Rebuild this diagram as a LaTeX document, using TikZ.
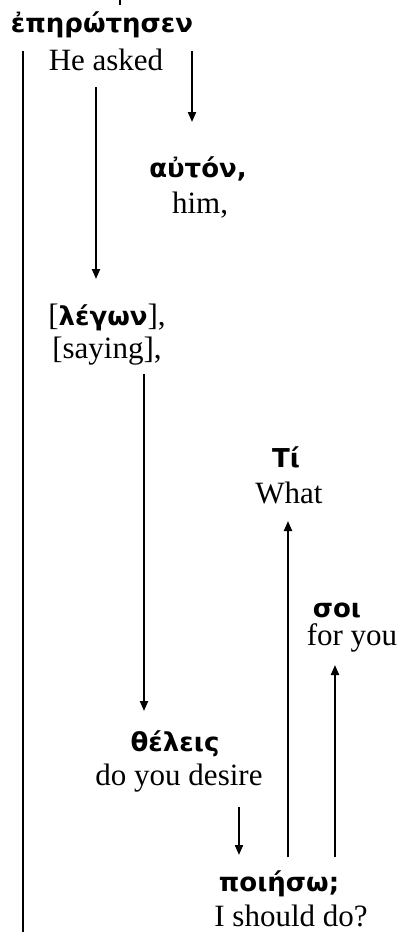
\documentclass[tikz,border=0pt]{standalone}
\usepackage{fontspec}
\setmainfont{Liberation Serif}
\newfontfamily\gk[Script=Greek]{DejaVu Sans}
\usetikzlibrary{arrows.meta}
\newcommand{\grk}{\gk\bfseries\fontsize{26}{30}\selectfont}
\newcommand{\eng}{\rmfamily\mdseries\fontsize{31}{36}\selectfont}
\tikzset{
  gr/.style={inner sep=0pt, anchor=base, font=\grk},
  en/.style={inner sep=0pt, anchor=base, font=\eng},
  ln/.style={line width=2pt},
  arr/.style={line width=2pt, -{Triangle[length=10pt,width=8pt]}},
}
\begin{document}
\begin{tikzpicture}[x=1pt,y=-1pt]
\useasboundingbox (0,0) rectangle (405,932);
% words
\node[gr] (w1) at (102,32) {ἐπηρώτησεν};
\node[en] (e1) at (106,70) {He asked};
\node[gr] (w2) at (198,177) {αὐτόν,};
\node[en] (e2) at (200,213) {him,};
\node[gr] (w3) at (107,325) {{\eng[}λέγων{\eng],}};
\node[en] (e3) at (107,358) {[saying],};
\node[gr] (w4) at (286,467) {Τί};
\node[en] (e4) at (289,503) {What};
\node[gr] (w5) at (337,617) {σοι};
\node[en] (e5) at (352,645) {for you};
\node[gr] (w6) at (175,751) {θέλεις};
\node[en] (e6) at (179,785) {do you desire};
\node[gr] (w7) at (279,891) {ποιήσω;};
\node[en] (e7) at (291,926) {I should do?};
% connector ends
\coordinate (t0) at (120,0);
\coordinate (t1) at (120,5);
\coordinate (l0) at (23,51);
\coordinate (l1) at (23,932);
\coordinate (a0) at (192,51);
\coordinate (a1) at (192,122);
\coordinate (b0) at (96,87);
\coordinate (b1) at (96,279);
\coordinate (c0) at (144,374);
\coordinate (c1) at (144,711);
\coordinate (d0) at (239,807);
\coordinate (d1) at (239,855);
\coordinate (f0) at (288,857);
\coordinate (f1) at (288,521);
\coordinate (g0) at (335,857);
\coordinate (g1) at (335,665);
% connectors
\draw[ln] (t0) -- (t1);
\draw[ln] (l0) -- (l1);
\draw[arr] (a0) -- (a1);
\draw[arr] (b0) -- (b1);
\draw[arr] (c0) -- (c1);
\draw[arr] (d0) -- (d1);
\draw[arr] (f0) -- (f1);
\draw[arr] (g0) -- (g1);
\end{tikzpicture}
\end{document}
